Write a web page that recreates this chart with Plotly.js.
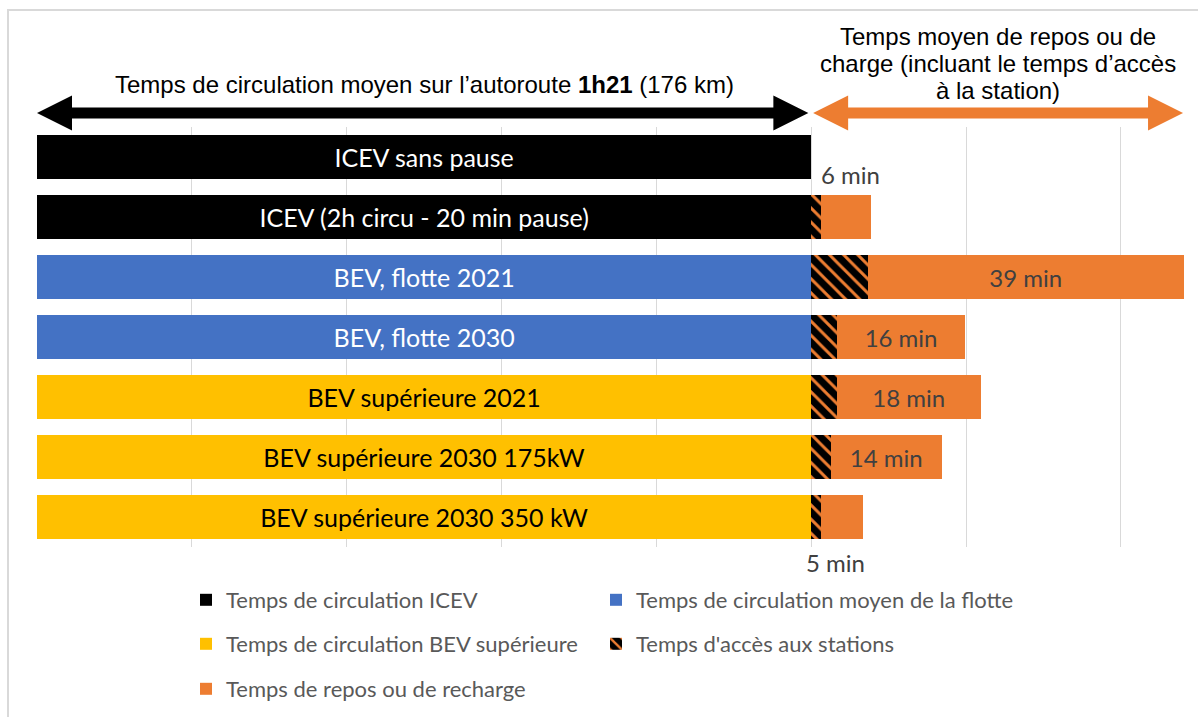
<!DOCTYPE html>
<html><head><meta charset="utf-8">
<script src="https://cdn.plot.ly/plotly-3.0.1.min.js"></script>
<style>
html,body{margin:0;padding:0;overflow:hidden;background:#fff}
#chart{width:1198px;height:717px}
#frame{position:absolute;left:7px;top:9px;width:1400px;height:900px;border-left:2px solid #d9d9d9;border-top:2px solid #d9d9d9;pointer-events:none}
</style></head>
<body><div id="chart"></div><div id="frame"></div>
<script>
// ---- data (minutes) ----
const categories = ["ICEV sans pause", "ICEV (2h circu - 20 min pause)", "BEV, flotte 2021", "BEV, flotte 2030",
  "BEV supérieure 2021", "BEV supérieure 2030 175kW", "BEV supérieure 2030 350 kW"];
const driveIcev  = [81, 81, null, null, null, null, null];
const driveFleet = [null, null, 81, 81, null, null, null];
const driveBev   = [null, null, null, null, 81, 81, 81];
const accessTime = [0, 1.05, 5.9, 2.7, 2.65, 2.05, 1.05];
const restTime   = [0, 5.2, 33.1, 13.4, 15.1, 11.6, 4.4];
const pauseLabels = ["", "6 min", "39 min", "16 min", "18 min", "14 min", "5 min"];
const labelOutside = [false, true, false, false, false, false, true];
const seriesNames = ["Temps de circulation ICEV", "Temps de circulation moyen de la flotte",
  "Temps de circulation BEV supérieure", "Temps d'accès aux stations", "Temps de repos ou de recharge"];
const rightTitleLines = ["Temps moyen de repos ou de", "charge (incluant le temps d’accès", "à la station)"];
const driveTime = 81;
const xMax = 120;
const gridStep = driveTime / 5;

const BLACK = "#000000", BLUE = "#4472C4", YELLOW = "#FFC000", ORANGE = "#ED7D31";
const calibri = "Lato, 'Open Sans', sans-serif";
const arial = "'Liberation Sans', Arial, sans-serif";

function driveTrace(vals, name, color, textColor, legend) {
  return {
    type: "bar", orientation: "h", y: categories, x: vals, name: name, legend: legend,
    marker: {color: color, line: {width: 0}},
    text: vals.map((v, i) => v == null ? "" : categories[i]),
    textposition: "inside", insidetextanchor: "middle",
    textfont: {family: calibri, size: 25, color: textColor},
    hoverinfo: "skip"
  };
}

const traces = [
  driveTrace(driveIcev, seriesNames[0], BLACK, "#ffffff", "legend"),
  driveTrace(driveFleet, seriesNames[1], BLUE, "#ffffff", "legend2"),
  driveTrace(driveBev, seriesNames[2], YELLOW, "#000000", "legend3"),
  {
    type: "bar", orientation: "h", y: categories, x: accessTime, name: seriesNames[3], legend: "legend4",
    marker: {color: ORANGE, line: {width: 0},
      pattern: {shape: "\\", fillmode: "replace", bgcolor: BLACK, fgcolor: ORANGE, size: 10, solidity: 0.3}},
    hoverinfo: "skip"
  },
  {
    type: "bar", orientation: "h", y: categories, x: restTime, name: seriesNames[4], legend: "legend5",
    marker: {color: ORANGE, line: {width: 0}},
    text: pauseLabels.map((t, i) => labelOutside[i] ? "" : t),
    textposition: "inside", insidetextanchor: "middle",
    textfont: {family: calibri, size: 24, color: "#404040"},
    hoverinfo: "skip"
  }
];

// outside labels
const annotations = [];
pauseLabels.forEach((t, i) => {
  if (!labelOutside[i]) return;
  annotations.push({
    x: driveTime, y: categories[i], xref: "x", yref: "y", text: t, showarrow: false,
    xanchor: "left", yanchor: "middle",
    xshift: i === 1 ? 8 : -7, yshift: i === 1 ? 43 : -45,
    font: {family: calibri, size: 24, color: "#404040"}
  });
});
annotations.push({
  x: driveTime / 2, y: 1.102, xref: "x", yref: "paper", showarrow: false,
  text: "Temps de circulation moyen sur l’autoroute <b>1h21</b> (176 km)",
  font: {family: arial, size: 24, color: "#000"}, xanchor: "center", yanchor: "middle"
});
const lineCenters = [36, 63, 90];
rightTitleLines.forEach((t, k) => {
  annotations.push({
    x: (driveTime + xMax) / 2, y: (547 - lineCenters[k]) / 420, xref: "x", yref: "paper", showarrow: false,
    text: t, font: {family: arial, size: 24, color: "#000"}, xanchor: "center", yanchor: "middle"
  });
});

// double-headed arrows
const pxPerMin = 1147 / xMax;
const headLen = 35 / pxPerMin;
function dblArrow(x0, x1, yc, color) {
  const s = 5.5 / 420, h = 17.5 / 420;
  const p = `M ${x0} ${yc} L ${x0 + headLen} ${yc + h} L ${x0 + headLen} ${yc + s} L ${x1 - headLen} ${yc + s} ` +
    `L ${x1 - headLen} ${yc + h} L ${x1} ${yc} L ${x1 - headLen} ${yc - h} L ${x1 - headLen} ${yc - s} ` +
    `L ${x0 + headLen} ${yc - s} L ${x0 + headLen} ${yc - h} Z`;
  return {type: "path", xref: "x", yref: "paper", path: p, fillcolor: color, line: {width: 0}, layer: "above"};
}
const arrowY = (547 - 113) / 420;
const shapes = [
  dblArrow(0, driveTime - 0.3, arrowY, BLACK),
  dblArrow(driveTime + 0.2, xMax - 0.1, arrowY, ORANGE)
];

function legendAt(xPx, yPx) {
  return {
    orientation: "h", xanchor: "left", yanchor: "middle",
    x: (xPx - 37) / 1147, y: -(yPx - 547) / 420,
    font: {family: calibri, size: 22, color: "#595959"},
    bgcolor: "rgba(0,0,0,0)", borderwidth: 0
  };
}

const layout = {
  width: 1198, height: 717,
  margin: {l: 37, r: 14, t: 127, b: 170, autoexpand: false},
  paper_bgcolor: "#fff", plot_bgcolor: "#fff",
  barmode: "stack", bargap: 0.28,
  showlegend: true,
  xaxis: {range: [0, xMax], tick0: 0, dtick: gridStep, showticklabels: false, ticks: "",
    showgrid: true, gridcolor: "#d9d9d9", gridwidth: 1, zeroline: false, showline: false, fixedrange: true},
  yaxis: {autorange: "reversed", showticklabels: false, ticks: "", showgrid: false, zeroline: false, fixedrange: true},
  legend: legendAt(186, 600),
  legend2: legendAt(596, 600),
  legend3: legendAt(186, 644),
  legend4: legendAt(596, 644),
  legend5: legendAt(186, 689),
  annotations: annotations,
  shapes: shapes
};

Plotly.newPlot("chart", traces, layout, {staticPlot: true, displayModeBar: false});
</script>
</body></html>
